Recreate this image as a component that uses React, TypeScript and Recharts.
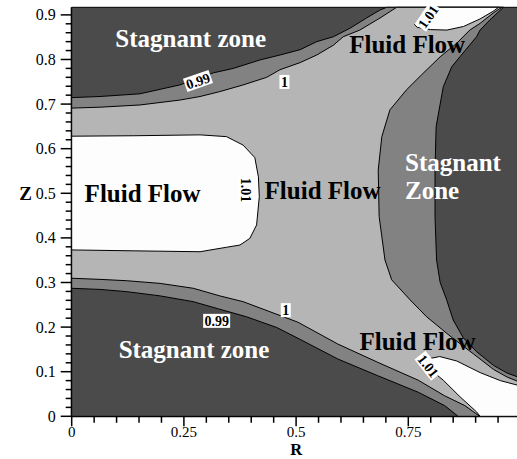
import { ComposedChart, Scatter, XAxis, YAxis, Label } from "recharts";

type Pt = [number, number];

const R_MAX = 1;
const Z_MAX = 0.917;

const DARK = "#4b4b4b";
const MID = "#828282";
const LIGHT = "#b5b5b5";
const WHITE = "#fdfdfd";
const SERIF = "'Liberation Serif', 'Times New Roman', serif";

// contour lines as [R, Z]
const LOWER_099: Pt[] = [
  [0, 0.287], [0.063, 0.2845], [0.1225, 0.2795], [0.197, 0.27], [0.271, 0.257],
  [0.33, 0.24], [0.39, 0.223], [0.457, 0.199], [0.504, 0.175], [0.593, 0.1285],
  [0.682, 0.091], [0.772, 0.054], [0.831, 0.024], [0.861, 0],
];
const LOWER_1: Pt[] = [
  [0, 0.3095], [0.063, 0.307], [0.1225, 0.304], [0.197, 0.298], [0.271, 0.287],
  [0.33, 0.27], [0.382, 0.257], [0.415, 0.2445], [0.504, 0.211], [0.593, 0.162],
  [0.682, 0.121], [0.772, 0.081], [0.831, 0.046], [0.876, 0.024], [0.909, 0],
];
const UPPER_099: Pt[] = [
  [0, 0.7145], [0.063, 0.717], [0.152, 0.723], [0.241, 0.743], [0.3155, 0.77],
  [0.36, 0.78], [0.4196, 0.799], [0.464, 0.81], [0.509, 0.822], [0.546, 0.84],
  [0.583, 0.851], [0.62, 0.87], [0.657, 0.893], [0.687, 0.911], [0.702, 0.917],
];
const UPPER_1: Pt[] = [
  [0, 0.691], [0.063, 0.693], [0.152, 0.698], [0.241, 0.709], [0.286, 0.717],
  [0.33, 0.728], [0.382, 0.743], [0.4345, 0.76], [0.464, 0.777], [0.509, 0.793],
  [0.546, 0.81], [0.583, 0.832], [0.605, 0.851], [0.642, 0.866], [0.687, 0.893],
  [0.724, 0.917],
];
// right stagnant zone, listed top to bottom
const RIGHT_099: Pt[] = [
  [0.962, 0.917], [0.932, 0.889], [0.91, 0.866], [0.902, 0.851], [0.865, 0.806],
  [0.847, 0.784], [0.828, 0.739], [0.821, 0.7], [0.812, 0.6495], [0.8095, 0.552],
  [0.8095, 0.448], [0.813, 0.3505], [0.821, 0.3], [0.8355, 0.261], [0.85, 0.216],
  [0.8725, 0.176], [0.902, 0.145], [0.94, 0.114], [0.97, 0.097], [1, 0.086],
];
const RIGHT_1: Pt[] = [
  [0.958, 0.917], [0.939, 0.904], [0.91, 0.881], [0.887, 0.866], [0.858, 0.8365],
  [0.821, 0.806], [0.783, 0.769], [0.746, 0.732], [0.709, 0.687], [0.691, 0.627],
  [0.683, 0.552], [0.685, 0.448], [0.698, 0.3505], [0.713, 0.306], [0.754, 0.261],
  [0.791, 0.223], [0.843, 0.18], [0.895, 0.14], [0.94, 0.105], [0.97, 0.088],
  [1, 0.076],
];
// 1.01 islands
const CORE_101: Pt[] = [
  [0, 0.628], [0.137, 0.629], [0.286, 0.631], [0.345, 0.627], [0.382, 0.608],
  [0.408, 0.58], [0.416, 0.537], [0.418, 0.4925], [0.412, 0.429], [0.397, 0.399],
  [0.375, 0.384], [0.345, 0.379], [0.286, 0.369], [0.137, 0.371], [0, 0.373],
];
const TOP_101: Pt[] = [
  [0.794, 0.917], [0.951, 0.917], [0.939, 0.908], [0.91, 0.891], [0.873, 0.874],
  [0.836, 0.866], [0.8, 0.867], [0.77, 0.872], [0.764, 0.878], [0.778, 0.898],
];
const BOTTOM_101: Pt[] = [
  [0.77, 0.122], [0.79, 0.128], [0.82, 0.134], [0.858, 0.124], [0.91, 0.098],
  [0.955, 0.08], [1, 0.068], [1, 0], [0.91, 0], [0.902, 0.01], [0.865, 0.044],
  [0.828, 0.081], [0.795, 0.108], [0.775, 0.116],
];

const X_TICKS = [0, 0.05, 0.1, 0.15, 0.2, 0.25, 0.3, 0.35, 0.4, 0.45, 0.5, 0.55, 0.6, 0.65, 0.7, 0.75, 0.8, 0.85, 0.9, 0.95];
const X_LABELED = [0, 0.25, 0.5, 0.75];
const Y_TICKS = Array.from({ length: 46 }, (_, i) => +(i * 0.02).toFixed(2));
const Y_LABELED = [0, 0.1, 0.2, 0.3, 0.4, 0.5, 0.6, 0.7, 0.8, 0.9];

const FLOW_TEXT = [
  { r: 0.158, z: 0.481, lines: ["Fluid Flow"] },
  { r: 0.559, z: 0.4866, lines: ["Fluid Flow"] },
  { r: 0.7475, z: 0.814, lines: ["Fluid Flow"] },
  { r: 0.7705, z: 0.1487, lines: ["Fluid Flow"] },
];
const STAGNANT_TEXT = [
  { r: 0.265, z: 0.829, lines: ["Stagnant zone"] },
  { r: 0.2725, z: 0.13, lines: ["Stagnant zone"] },
  { r: 0.7427, z: 0.549, lines: ["Stagnant", "Zone"] },
];
const LEVEL_TEXT = [
  { r: 0.2814, z: 0.752, text: "0.99", angle: -19 },
  { r: 0.474, z: 0.7497, text: "1", angle: 0 },
  { r: 0.388, z: 0.5075, text: "1.01", angle: 90 },
  { r: 0.794, z: 0.896, text: "1.01", angle: -55 },
  { r: 0.323, z: 0.214, text: "0.99", angle: 0 },
  { r: 0.477, z: 0.238, text: "1", angle: 0 },
  { r: 0.7946, z: 0.1133, text: "1.01", angle: 52 },
];

const rev = (pts: Pt[]) => [...pts].reverse();
const closed = (pts: Pt[]) => [...pts, pts[0]].map(([r, z]) => ({ r, z }));

const FRAME: Pt[] = [[0, 0], [R_MAX, 0], [R_MAX, Z_MAX], [0, Z_MAX]];
const ABOVE_099: Pt[] = [...LOWER_099, [R_MAX, 0], ...rev(RIGHT_099), ...rev(UPPER_099)];
const ABOVE_1: Pt[] = [...LOWER_1, [R_MAX, 0], ...rev(RIGHT_1), ...rev(UPPER_1)];

const REGIONS = [
  { pts: FRAME, fill: DARK },
  { pts: ABOVE_099, fill: MID },
  { pts: ABOVE_1, fill: LIGHT },
  { pts: CORE_101, fill: WHITE },
  { pts: TOP_101, fill: WHITE },
  { pts: BOTTOM_101, fill: WHITE },
];

const near = (list: number[], v: number) => list.some((m) => Math.abs(m - v) < 1e-6);
const NoDot = () => null;

function XTick({ x, y, payload }: any) {
  const major = near(X_LABELED, payload.value);
  return (
    <g>
      <line x1={x} x2={x} y1={y} y2={y + (major ? 10 : 6.5)} stroke="#000" strokeWidth={1.5} />
      {major && (
        <text x={x} y={y + 20.5} textAnchor="middle" fontFamily={SERIF} fontSize={15} fill="#000">
          {String(payload.value)}
        </text>
      )}
    </g>
  );
}

function YTick({ x, y, payload }: any) {
  const major = near(Y_LABELED, payload.value);
  return (
    <g>
      <line x1={x} x2={x - (major ? 11 : 6)} y1={y} y2={y} stroke="#000" strokeWidth={1.5} />
      {major && (
        <text x={x - 16} y={y + 5.5} textAnchor="end" fontFamily={SERIF} fontSize={16} fill="#000">
          {String(payload.value)}
        </text>
      )}
    </g>
  );
}

// zone captions; multi-line captions are left aligned like the reference
const zoneText = (color: string) => (p: any) => {
  const d = p.payload ?? p;
  const multi = d.lines.length > 1;
  return (
    <text
      x={p.cx}
      y={p.cy}
      textAnchor={multi ? "start" : "middle"}
      fontFamily={SERIF}
      fontWeight="bold"
      fontSize={25}
      fill={color}
    >
      {d.lines.map((ln: string, i: number) => (
        <tspan key={i} x={p.cx} dy={i === 0 ? 0 : 27.7}>
          {ln}
        </tspan>
      ))}
    </text>
  );
};

function LevelTag(p: any) {
  const d = p.payload ?? p;
  const w = d.text.length === 1 ? 10 : 27;
  return (
    <g transform={`translate(${p.cx},${p.cy}) rotate(${d.angle})`}>
      <rect x={-w / 2} y={-7} width={w} height={14} fill="#fff" />
      <text x={0} y={5} textAnchor="middle" fontFamily={SERIF} fontWeight="bold" fontSize={14} fill="#000">
        {d.text}
      </text>
    </g>
  );
}

export default function App() {
  return (
    <div style={{ position: "absolute", left: 0, top: 0, width: 517, height: 459, overflow: "hidden", background: "#fff" }}>
      <ComposedChart width={524} height={459} margin={{ top: 7.3, right: 3.5, bottom: 2.7, left: 11.7 }}>
        <XAxis
          type="number"
          dataKey="r"
          domain={[0, R_MAX]}
          ticks={X_TICKS}
          interval={0}
          height={40}
          tickSize={0}
          tickMargin={0}
          tickLine={false}
          tick={<XTick />}
          axisLine={{ stroke: "#000", strokeWidth: 2 }}
        >
          <Label
            content={(p: any) => {
              const vb = p.viewBox;
              return (
                <text x={vb.x + vb.width * 0.5} y={vb.y + 38.9} textAnchor="middle" fontFamily={SERIF} fontWeight="bold" fontSize={16.5}>
                  R
                </text>
              );
            }}
          />
        </XAxis>
        <YAxis
          type="number"
          dataKey="z"
          domain={[0, Z_MAX]}
          ticks={Y_TICKS}
          interval={0}
          width={60}
          tickSize={0}
          tickMargin={0}
          tickLine={false}
          tick={<YTick />}
          axisLine={{ stroke: "#000", strokeWidth: 2 }}
        >
          <Label
            content={(p: any) => {
              const vb = p.viewBox;
              return (
                <text x={vb.x + vb.width - 46} y={vb.y + vb.height * (1 - 0.5 / Z_MAX) + 6.5} textAnchor="middle" fontFamily={SERIF} fontWeight="bold" fontSize={19}>
                  Z
                </text>
              );
            }}
          />
        </YAxis>
        {REGIONS.map((reg, i) => (
          <Scatter
            key={i}
            data={closed(reg.pts)}
            fill="none"
            shape={NoDot}
            line={{ fill: reg.fill, stroke: "#000", strokeWidth: 1 }}
            lineType="joint"
            lineJointType="linear"
            isAnimationActive={false}
          />
        ))}
        <Scatter data={FLOW_TEXT} shape={zoneText("#000")} isAnimationActive={false} />
        <Scatter data={STAGNANT_TEXT} shape={zoneText("#fff")} isAnimationActive={false} />
        <Scatter data={LEVEL_TEXT} shape={LevelTag} isAnimationActive={false} />
      </ComposedChart>
    </div>
  );
}
